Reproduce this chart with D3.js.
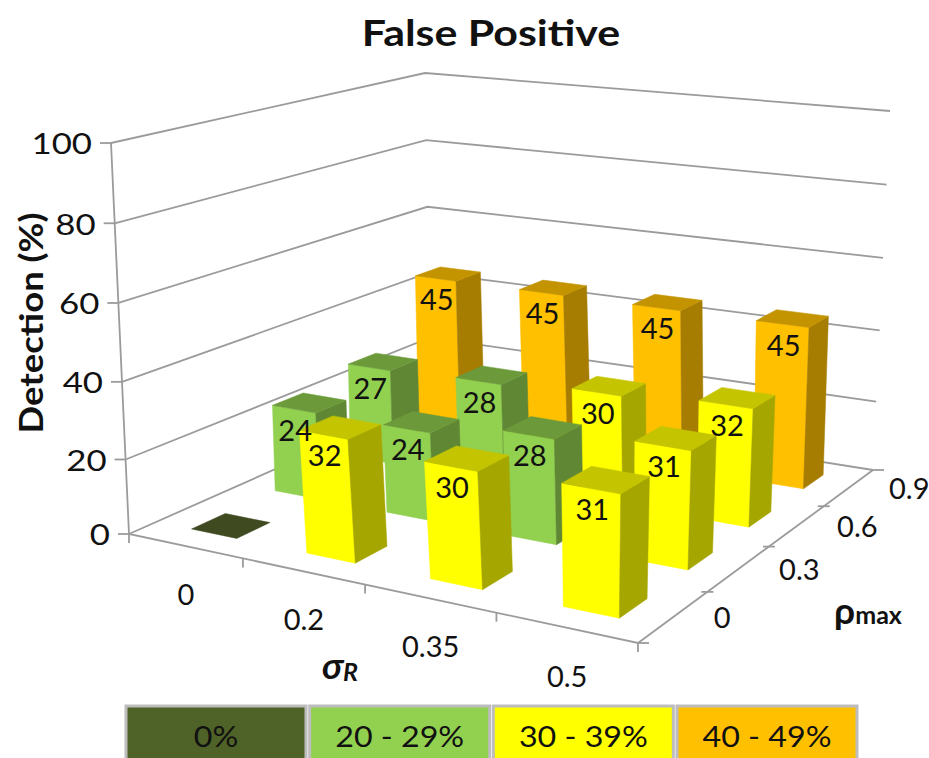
<!DOCTYPE html>
<html>
<head>
<meta charset="utf-8">
<script src="https://cdn.jsdelivr.net/npm/d3@7"></script>
<style>
html,body{margin:0;padding:0;background:#fff;overflow:hidden}
text{font-family:Lato,"Open Sans",sans-serif;fill:#111}
</style>
</head>
<body>
<svg id="chart" width="929" height="758"></svg>
<script>
// Detection rate for each noise / correlation combination
const sigmaLabels = ["0", "0.2", "0.35", "0.5"];
const rhoLabels = ["0", "0.3", "0.6", "0.9"];
const rho0 = [0, 32, 30, 31];
const rho03 = [24, 24, 28, 31];
const rho06 = [27, 28, 30, 32];
const rho09 = [45, 45, 45, 45];
const zTicks = [0, 20, 40, 60, 80, 100];
const legendLabels = ["0%", "20 - 29%", "30 - 39%", "40 - 49%"];
const frontColors = ["#4f6228", "#92d050", "#ffff00", "#ffc000"];
const sideColors = ["#3a4a1c", "#5f8734", "#a6a600", "#a67d00"];
const topColors = ["#3f4a20", "#6c9a3b", "#c4c400", "#c49400"];

// Corners of the floor and of the ceiling plane, on screen: near-left, near-right, far-right, far-left
const floorQuad = [[129, 534], [638, 643], [873, 470], [431, 400]];
const ceilQuad = [[111, 143], [649, 222], [890, 111], [425, 73]];

function homography(q) {
  const [[x0, y0], [x1, y1], [x2, y2], [x3, y3]] = q;
  const dx1 = x1 - x2, dx2 = x3 - x2, sx = x0 - x1 + x2 - x3;
  const dy1 = y1 - y2, dy2 = y3 - y2, sy = y0 - y1 + y2 - y3;
  const den = dx1 * dy2 - dx2 * dy1;
  const g = (sx * dy2 - dx2 * sy) / den, h = (dx1 * sy - sx * dy1) / den;
  const a = x1 - x0 + g * x1, b = x3 - x0 + h * x3;
  const d = y1 - y0 + g * y1, e = y3 - y0 + h * y3;
  return (u, v) => {
    const w = g * u + h * v + 1;
    return [(a * u + b * v + x0) / w, (d * u + e * v + y0) / w];
  };
}
const floorAt = homography(floorQuad), ceilAt = homography(ceilQuad);

const zScale = d3.scalePow().exponent(1.03).domain([0, 100]).range([0, 1]);
const project = (u, v, z) => {
  const a = floorAt(u, v), b = ceilAt(u, v), t = zScale(z);
  return [a[0] + (b[0] - a[0]) * t, a[1] + (b[1] - a[1]) * t];
};

const uBand = d3.scaleBand().domain(sigmaLabels).range([0.004, 1.004]).paddingInner(0.6).paddingOuter(0.3);
const vBand = d3.scaleBand().domain(rhoLabels).range([0, 1]).paddingInner(0.61).paddingOuter(0.305);
const colorIndex = d3.scaleThreshold().domain([20, 30, 40]).range([0, 1, 2, 3]);

const svg = d3.select("#chart");
const line = d3.line();
const gridColor = "#9b9b9b";

// Places a text at a point, optionally widened along x
function putText(x, y, str, size, opts = {}) {
  const sx = opts.sx || 1;
  return svg.append("text")
    .attr("transform", `translate(${x},${y}) rotate(${opts.rotate || 0}) scale(${sx},1)`)
    .attr("text-anchor", opts.anchor || "middle")
    .attr("dominant-baseline", "central")
    .attr("font-size", size)
    .attr("font-weight", opts.weight || 400)
    .text(str);
}

// Walls
const grid = svg.append("g").attr("fill", "none").attr("stroke", gridColor).attr("stroke-width", 1.8);
zTicks.forEach(z => {
  grid.append("path").attr("d", line([project(0, 0, z), project(0, 1, z), project(1, 1, z)]));
  const p = project(0, 0, z);
  grid.append("path").attr("d", line([[p[0] - 11, p[1]], p]));
});

// Axis lines and ticks
const axes = svg.append("g").attr("fill", "none").attr("stroke", gridColor).attr("stroke-width", 1.8);
axes.append("path").attr("d", line([project(0, 0, 100), project(0, 0, 0), project(1, 0, 0), project(1, 1, 0)]));
d3.range(0, 5).forEach(i => {
  const s = project(i / 4, 0, 0);
  axes.append("path").attr("d", line([s, [s[0], s[1] + 9]]));
  const r = project(1, i / 4, 0);
  const inner = i === 0 || i === 4 ? 0 : 6;
  axes.append("path").attr("d", line([[r[0] - inner, r[1]], [r[0] + (i === 4 ? 11 : inner || 11), r[1]]]));
});

// Columns, painted from the far row to the near row
const rows = [rho0, rho03, rho06, rho09];
const cells = [];
rows.forEach((vals, r) => vals.forEach((value, s) => cells.push({ s, r, value })));
cells.sort((a, b) => (b.r - a.r) || (a.s - b.s));

const bars = svg.append("g");
const labels = [];
cells.forEach(c => {
  const u0 = uBand(sigmaLabels[c.s]), u1 = u0 + uBand.bandwidth();
  const v0 = vBand(rhoLabels[c.r]), v1 = v0 + vBand.bandwidth();
  const i = colorIndex(c.value), z = c.value;
  const face = (pts, fill) => bars.append("path").attr("d", line(pts) + "Z").attr("fill", fill).attr("stroke", fill).attr("stroke-width", 0.5);
  if (z > 0) {
    face([project(u0, v0, 0), project(u1, v0, 0), project(u1, v0, z), project(u0, v0, z)], frontColors[i]);
    face([project(u1, v0, 0), project(u1, v1, 0), project(u1, v1, z), project(u1, v0, z)], sideColors[i]);
  }
  face([project(u0, v0, z), project(u1, v0, z), project(u1, v1, z), project(u0, v1, z)], topColors[i]);
  if (z > 0) {
    const a = project(u0, v0, z), b = project(u1, v0, z);
    labels.push({ x: (a[0] + b[0]) / 2 + 1, y: (a[1] + b[1]) / 2 + 20, value: c.value });
  }
});

// Value labels sit above every column
labels.forEach(d => putText(d.x, d.y, d.value, 29));

// Axis tick labels
zTicks.forEach(z => {
  const p = project(0, 0, z);
  putText(p[0] - 19, p[1], z, 29, { anchor: "end", sx: 1.2 });
});
sigmaLabels.forEach(t => {
  const a = project(uBand(t) + uBand.bandwidth() / 2, 0, 0);
  putText(a[0] - 1, a[1] + 47, t, 29);
});
rhoLabels.forEach(t => {
  const a = project(1, vBand(t) + vBand.bandwidth() / 2, 0);
  putText(a[0] + 40, a[1], t, 29, { anchor: "start" });
});

// Titles
putText(491, 32, "False Positive", 37, { weight: 700, sx: 1.16 });
putText(30, 323, "Detection (%)", 32, { weight: 700, rotate: -90, sx: 1.14 });

const sig = svg.append("text").attr("x", 340).attr("y", 664).attr("text-anchor", "middle")
  .attr("dominant-baseline", "central").attr("font-weight", 700).attr("font-style", "italic").attr("font-size", 37);
sig.append("tspan").text("σ");
sig.append("tspan").attr("font-size", 25).attr("dy", 7).text("R");
const rhoT = svg.append("text").attr("x", 868).attr("y", 609).attr("text-anchor", "middle")
  .attr("dominant-baseline", "central").attr("font-weight", 700).attr("font-size", 37);
rhoT.append("tspan").text("ρ");
rhoT.append("tspan").attr("font-size", 25).attr("dy", 5).text("max");

// Legend strip along the bottom edge
const legendX = d3.scaleBand().domain(legendLabels).range([126, 857]).paddingInner(0.02);
svg.append("g").selectAll("rect").data(legendLabels).join("rect")
  .attr("x", d => legendX(d)).attr("y", 706).attr("width", legendX.bandwidth()).attr("height", 60)
  .attr("fill", (d, i) => frontColors[i]).attr("stroke", "#bdbdbd").attr("stroke-width", 3);
legendLabels.forEach(t => putText(legendX(t) + legendX.bandwidth() / 2, 736, t, 28, { sx: 1.15 }));
</script>
</body>
</html>
